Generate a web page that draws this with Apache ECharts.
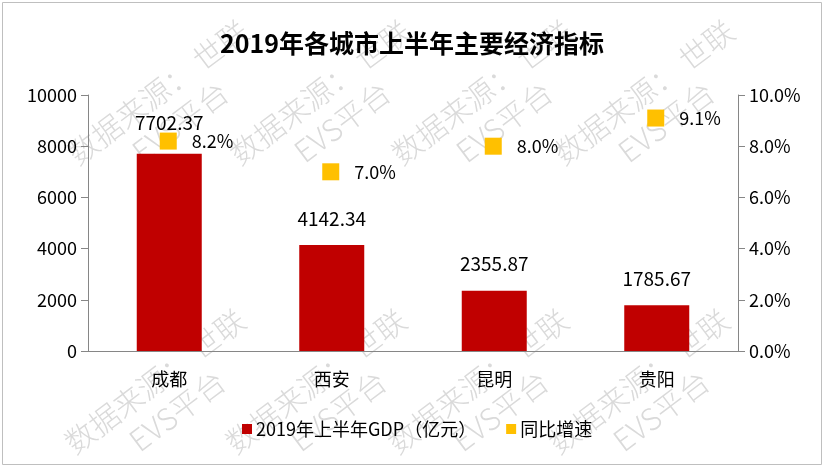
<!DOCTYPE html>
<html>
<head>
<meta charset="utf-8">
<style>
  html, body { margin: 0; padding: 0; background: #fff; }
  #main { width: 824px; height: 468px; }
</style>
<script src="https://cdn.jsdelivr.net/npm/echarts@6/dist/echarts.min.js"></script>
</head>
<body>
<div id="main"></div>
<script>
const titleText = '2019年各城市上半年主要经济指标';
const cities = ['成都', '西安', '昆明', '贵阳'];
const gdp = [7702.37, 4142.34, 2355.87, 1785.67];
const growth = [8.2, 7.0, 8.0, 9.1];
const gdpName = '2019年上半年GDP（亿元）';
const growthName = '同比增速';
const watermarkTop = [169, 331, 493, 655];
const watermarkBottom = [166, 327, 489, 650];

const font = '"Noto Sans CJK SC", sans-serif';

function watermark(x, y) {
  return {
    type: 'text',
    x: x,
    y: y,
    rotation: 37 * Math.PI / 180,
    z: 0,
    silent: true,
    style: {
      text: '数据来源： 世联\nEVS平台',
      align: 'center',
      verticalAlign: 'middle',
      font: '200 30px ' + font,
      lineHeight: 37,
      fill: '#dadada'
    }
  };
}

const chart = echarts.init(document.getElementById('main'), null, { renderer: 'canvas' });

chart.setOption({
  animation: false,
  backgroundColor: '#fff',
  textStyle: { fontFamily: font },
  title: {
    text: titleText,
    left: 'center',
    top: 26,
    textStyle: { fontSize: 25, fontWeight: 'bold', color: '#000', fontFamily: font }
  },
  legend: {
    bottom: 25,
    left: 237,
    itemWidth: 10,
    itemHeight: 10,
    itemGap: 30,
    icon: 'rect',
    textStyle: { fontSize: 18, color: '#000', padding: [0, 0, 0, -1] },
    data: [gdpName, growthName]
  },
  grid: { left: 88, right: 86, top: 95, bottom: 117 },
  xAxis: {
    type: 'category',
    data: cities,
    axisLine: { lineStyle: { color: '#868686', width: 1 } },
    axisTick: { length: 6, lineStyle: { color: '#868686' } },
    axisLabel: { fontSize: 18, color: '#000', margin: 19 }
  },
  yAxis: [
    {
      type: 'value',
      min: 0,
      max: 10000,
      interval: 2000,
      splitLine: { show: false },
      axisLine: { show: true, lineStyle: { color: '#868686' } },
      axisTick: { show: true, length: 7, lineStyle: { color: '#868686' } },
      axisLabel: { fontSize: 18, color: '#000', margin: 11, formatter: v => String(v) }
    },
    {
      type: 'value',
      min: 0,
      max: 10,
      interval: 2,
      position: 'right',
      splitLine: { show: false },
      axisLine: { show: true, lineStyle: { color: '#868686' } },
      axisTick: { show: true, length: 7, lineStyle: { color: '#868686' } },
      axisLabel: { fontSize: 18, color: '#000', margin: 11, formatter: v => v.toFixed(1) + '%' }
    }
  ],
  series: [
    {
      name: gdpName,
      type: 'bar',
      // 成都的标签在原图里抬得更高
      data: gdp.map((v, i) => (i === 0 ? { value: v, label: { distance: 22 } } : v)),
      barWidth: '40%',
      itemStyle: { color: '#C00000' },
      label: {
        show: true,
        position: 'top',
        distance: 17,
        fontSize: 19,
        color: '#000',
        formatter: p => p.value.toFixed(2)
      }
    },
    {
      name: growthName,
      type: 'scatter',
      yAxisIndex: 1,
      data: growth,
      symbol: 'rect',
      symbolSize: 17,
      symbolOffset: [-1, 0],
      itemStyle: { color: '#FFC000', opacity: 1 },
      label: {
        show: true,
        position: 'right',
        distance: 15,
        fontSize: 18,
        color: '#000',
        opacity: 1,
        formatter: p => p.value.toFixed(1) + '%'
      }
    }
  ],
  graphic: [
    {
      type: 'rect',
      silent: true,
      shape: { x: 2.5, y: 2.5, width: 819, height: 462 },
      style: { fill: 'none', stroke: '#bfbfbf', lineWidth: 1 }
    }
  ].concat(
    watermarkTop.map(x => watermark(x, 107)),
    watermarkBottom.map(x => watermark(x, 396))
  )
});
</script>
</body>
</html>
